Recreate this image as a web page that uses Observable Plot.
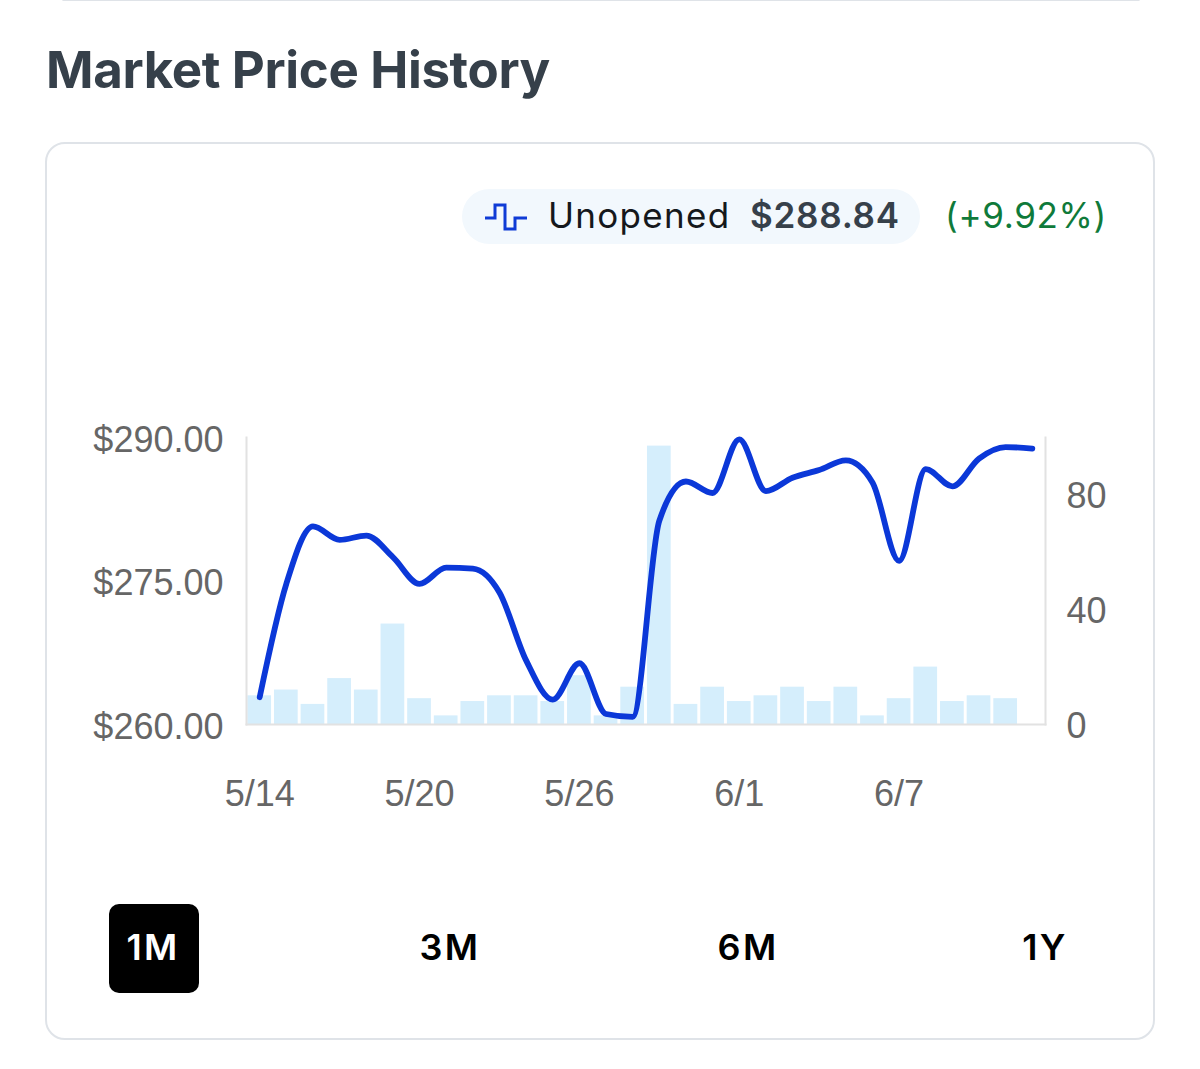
<!DOCTYPE html>
<html><head><meta charset="utf-8">
<script src="https://cdn.jsdelivr.net/npm/d3@7"></script>
<script src="https://cdn.jsdelivr.net/npm/@observablehq/plot@0.6"></script>
<style>
html,body{margin:0;padding:0;background:#fff;}
body{position:relative;width:1200px;height:1069px;overflow:hidden;font-family:Inter,"Liberation Sans",sans-serif;}
.abs{position:absolute;white-space:nowrap;}
#top{left:62px;top:-2px;width:1078px;height:3px;background:#dfe3e8;border-radius:2px;}
#title{left:46px;top:40px;font-size:51px;line-height:60px;font-weight:700;color:#36404a;letter-spacing:-0.35px;}
#card{left:45px;top:142px;width:1106px;height:894px;border:2.5px solid #dfe3e8;border-radius:20px;}
#pill{left:462px;top:189px;width:458px;height:55px;border-radius:28px;background:#f2f8fd;}
#icon{left:484px;top:203px;}
#series{left:548px;top:193px;font-size:35px;line-height:44px;color:#15181c;letter-spacing:1.3px;}
#price{left:750px;top:193px;font-size:35px;line-height:44px;font-weight:600;color:#36404a;letter-spacing:0.75px;}
#chg{left:945px;top:193px;font-size:35px;line-height:44px;color:#0f7a3a;letter-spacing:0.65px;}
#chart{left:0;top:420px;}
.btn{top:904px;width:90px;height:89px;line-height:86px;text-align:center;font-size:36px;font-weight:600;color:#000;border-radius:10px;letter-spacing:2.4px;}
</style></head>
<body>
<div class="abs" id="top"></div>
<div class="abs" id="title">Market Price History</div>
<div class="abs" id="card"></div>
<div class="abs" id="pill"></div>
<svg class="abs" id="icon" width="44" height="30" viewBox="0 0 44 30"><path d="M1 15H11V2H21V26H31V15H43" fill="none" stroke="#0f3bd6" stroke-width="3"/></svg>
<div class="abs" id="series">Unopened</div>
<div class="abs" id="price">$288.84</div>
<div class="abs" id="chg">(+9.92%)</div>
<div class="abs" id="chart"></div>
<div class="abs btn" style="left:109px;background:#000;color:#fff;text-indent:-2px;">1M</div>
<div class="abs btn" style="left:405px;">3M</div>
<div class="abs btn" style="left:703px;">6M</div>
<div class="abs btn" style="left:1000px;">1Y</div>
<script>
const dates = ["5/14","5/15","5/16","5/17","5/18","5/19","5/20","5/21","5/22","5/23","5/24","5/25","5/26","5/27","5/28","5/29","5/30","5/31","6/1","6/2","6/3","6/4","6/5","6/6","6/7","6/8","6/9","6/10","6/11","6/12"];
const prices = [262.85,274.7,280.7,279.3,279.75,277.5,274.7,276.4,276.3,273.8,266.7,262.6,266.4,261.1,260.8,281.3,285.4,284.2,289.8,284.4,285.8,286.6,287.6,285.3,277.1,286.7,284.9,287.8,289,288.84];
const volumes = [10,12,7,16,12,35,9,3,8,10,10,8,17,3,13,97,7,13,8,10,13,8,13,3,9,20,8,10,9,0];
const xTicks = ["5/14","5/20","5/26","6/1","6/7"];
const priceTicks = [260,275,290];
const volumeTicks = [0,40,80];
const volToPrice = d3.scaleLinear([0,100],[260,290]);
const priceToVol = volToPrice.invert;
const rows = dates.map((d,i)=>({date:d,price:prices[i],volume:volumes[i]}));
const grey = "#666";
const font = 36;
const chart = Plot.plot({
  width:1200, height:400,
  marginLeft:246, marginRight:155, marginTop:17, marginBottom:96,
  style:{fontFamily:'"Liberation Sans",Arial,sans-serif',background:"transparent",overflow:"visible"},
  x:{type:"band",domain:dates,paddingInner:0.11,paddingOuter:0.05,round:false},
  y:{domain:[260,290]},
  marks:[
    Plot.barY(rows.filter(d=>d.volume>0),{x:"date",y1:()=>260,y2:d=>volToPrice(d.volume),fill:"#d5eefc"}),
    Plot.frame({anchor:"left",stroke:"#e2e2e2",strokeWidth:2}),
    Plot.frame({anchor:"right",stroke:"#e2e2e2",strokeWidth:2}),
    Plot.frame({anchor:"bottom",stroke:"#e2e2e2",strokeWidth:2}),
    Plot.line(rows,{x:"date",y:"price",stroke:"#0b38d8",strokeWidth:5.8,curve:"monotone-x"}),
    Plot.axisY({ticks:priceTicks,anchor:"left",tickSize:0,tickPadding:23,fontSize:font,fill:grey,label:null,dy:2.5,tickFormat:d=>"$"+d.toFixed(2)}),
    Plot.axisY({ticks:volumeTicks.map(v=>volToPrice(v)),anchor:"right",tickSize:0,tickPadding:21,fontSize:font,fill:grey,label:null,dy:1.5,tickFormat:d=>String(Math.round(priceToVol(d)))}),
    Plot.axisX({ticks:xTicks,anchor:"bottom",tickSize:0,tickPadding:56,fontSize:font,fill:grey,label:null})
  ]
});
document.getElementById("chart").appendChild(chart);
</script>
</body></html>
